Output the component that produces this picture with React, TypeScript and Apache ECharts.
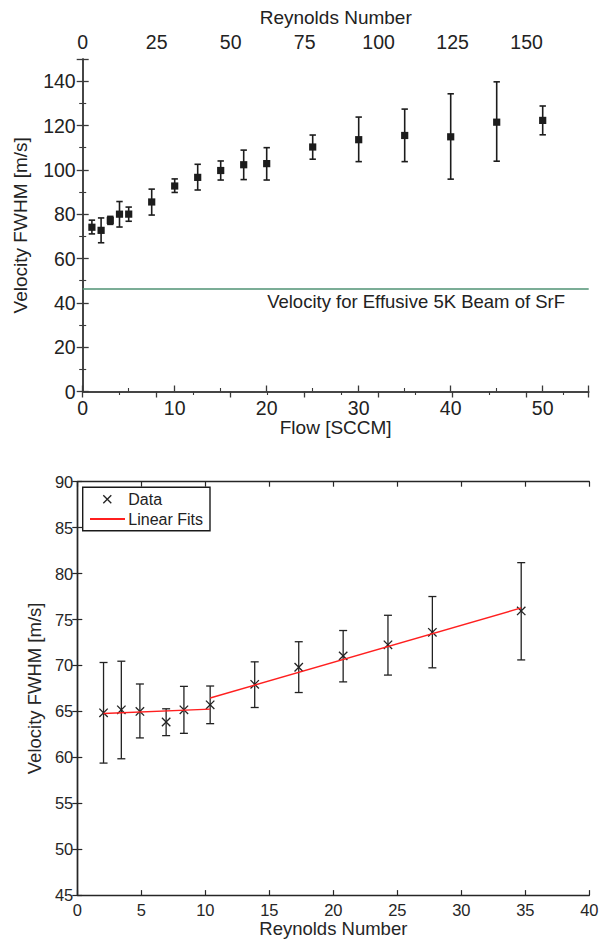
import React, { useEffect, useRef } from 'react';
import * as echarts from 'echarts';

// ---------- Top chart: FWHM vs flow ----------
const flowSccm = [1, 2, 3, 4, 5, 7.5, 10, 12.5, 15, 17.5, 20, 25, 30, 35, 40, 45, 50];
const fwhmTop = [74.1, 72.7, 77.2, 80.0, 80.0, 85.5, 92.7, 96.6, 99.7, 102.3, 102.8, 110.3, 113.6, 115.5, 114.9, 121.5, 122.3];
const errLowTop = [71.1, 67.1, 75.4, 74.2, 76.8, 79.6, 89.8, 90.9, 95.4, 95.6, 95.4, 104.8, 103.7, 103.7, 95.8, 103.9, 115.8];
const errHighTop = [77.3, 78.3, 79.0, 85.7, 83.2, 91.3, 95.9, 102.5, 104.0, 108.9, 110.0, 115.7, 123.8, 127.4, 134.3, 139.7, 128.8];
const effusiveVelocity = 46.5;
const effusiveLabel = 'Velocity for Effusive 5K Beam of SrF';
const flowMax = 55;
const reynoldsTopMax = 171;

// ---------- Bottom chart: FWHM vs Reynolds number ----------
const reynolds = [2.05, 3.44, 4.89, 6.94, 8.33, 10.38, 13.86, 17.3, 20.77, 24.27, 27.74, 34.68];
const fwhmBottom = [64.84, 65.17, 64.99, 63.84, 65.17, 65.71, 67.94, 69.8, 71.04, 72.24, 73.6, 75.93];
const errLowBottom = [59.37, 59.84, 62.11, 62.36, 62.61, 63.66, 65.42, 67.05, 68.21, 68.95, 69.74, 70.6];
const errHighBottom = [70.32, 70.46, 67.98, 65.28, 67.72, 67.76, 70.39, 72.58, 73.8, 75.46, 77.5, 81.19];
const fitLowRe = [2.05, 10.38];
const fitLowV = [64.77, 65.24];
const fitHighRe = [10.38, 34.68];
const fitHighV = [66.46, 76.26];

const FONT = 'Liberation Sans, Arial, Helvetica, sans-serif';
const TOP_C = '#3a3a3a';
const TXT_TOP = '#222';
const BOT_C = '#262626';

export default function App() {
  const ref = useRef<HTMLDivElement>(null);
  useEffect(() => {
    if (!ref.current) return;
    const chart = echarts.init(ref.current, null, { renderer: 'svg' });

    const topAxisCommon = (show: boolean) => ({
      axisLine: { show: true, lineStyle: { color: TOP_C, width: 1.5 } },
      axisTick: { show: true, inside: true, length: 6, lineStyle: { color: TOP_C, width: 1.3 } },
      minorTick: { show: true, splitNumber: 2, length: 3.5, lineStyle: { color: TOP_C, width: 1.1 } },
      splitLine: { show: false },
      axisLabel: { show, color: TXT_TOP, fontSize: 19.5, fontFamily: FONT, showMaxLabel: false },
    });
    const botAxisCommon = (show: boolean) => ({
      axisLine: { show: true, lineStyle: { color: BOT_C, width: 1.4 } },
      axisTick: { show: true, inside: true, length: 5, lineStyle: { color: BOT_C, width: 1.2 } },
      splitLine: { show: false },
      axisLabel: { show, color: BOT_C, fontSize: 16.5, fontFamily: FONT, showMinLabel: true, showMaxLabel: true },
    });

    const topData = flowSccm.map((f, i) => [f, fwhmTop[i], errLowTop[i], errHighTop[i]]);
    const botData = reynolds.map((r, i) => [r, fwhmBottom[i], errLowBottom[i], errHighBottom[i]]);

    const option: any = {
      animation: false,
      backgroundColor: '#fff',
      grid: [
        { left: 82.7, top: 59, width: 506, height: 332.5 },
        { left: 77.3, top: 481.7, width: 512, height: 416.7 },
      ],
      xAxis: [
        {
          gridIndex: 0, type: 'value', position: 'bottom', min: 0, max: flowMax, interval: 10,
          name: 'Flow [SCCM]', nameLocation: 'middle', nameGap: 25,
          nameTextStyle: { color: TXT_TOP, fontSize: 19, fontFamily: FONT },
          ...topAxisCommon(true),
          axisLabel: { ...topAxisCommon(true).axisLabel, margin: 6 },
        },
        {
          gridIndex: 0, type: 'value', position: 'top', min: 0, max: reynoldsTopMax, interval: 25,
          name: 'Reynolds Number', nameLocation: 'middle', nameGap: 32,
          nameTextStyle: { color: TXT_TOP, fontSize: 19, fontFamily: FONT },
          ...topAxisCommon(true),
          axisLabel: { ...topAxisCommon(true).axisLabel, margin: 7 },
        },
        {
          gridIndex: 1, type: 'value', position: 'bottom', min: 0, max: 40, interval: 5,
          name: 'Reynolds Number', nameLocation: 'middle', nameGap: 23,
          nameTextStyle: { color: BOT_C, fontSize: 18.5, fontFamily: FONT },
          ...botAxisCommon(true),
          axisLabel: { ...botAxisCommon(true).axisLabel, margin: 6 },
        },
        {
          gridIndex: 1, type: 'value', position: 'top', min: 0, max: 40, interval: 5,
          ...botAxisCommon(false),
        },
      ],
      yAxis: [
        {
          gridIndex: 0, type: 'value', position: 'left', min: 0, max: 150, interval: 20,
          name: 'Velocity FWHM [m/s]', nameLocation: 'middle', nameGap: 53,
          nameTextStyle: { color: TXT_TOP, fontSize: 19, fontFamily: FONT },
          ...topAxisCommon(true),
          axisLabel: { ...topAxisCommon(true).axisLabel, margin: 7 },
        },
        {
          gridIndex: 0, type: 'value', position: 'right', min: 0, max: 150, interval: 20,
          ...topAxisCommon(false),
        },
        {
          gridIndex: 1, type: 'value', position: 'left', min: 45, max: 90, interval: 5,
          name: 'Velocity FWHM [m/s]', nameLocation: 'middle', nameGap: 29,
          nameTextStyle: { color: BOT_C, fontSize: 18.5, fontFamily: FONT },
          ...botAxisCommon(true),
          axisLabel: { ...botAxisCommon(true).axisLabel, margin: 4 },
        },
        {
          gridIndex: 1, type: 'value', position: 'right', min: 45, max: 90, interval: 5,
          ...botAxisCommon(false),
        },
      ],
      series: [
        {
          name: 'FWHM vs flow',
          type: 'custom',
          xAxisIndex: 0, yAxisIndex: 0,
          data: topData,
          encode: { x: 0, y: [1, 2, 3] },
          renderItem: (params: any, api: any) => {
            const p = api.coord([api.value(0), api.value(1)]);
            const pl = api.coord([api.value(0), api.value(2)]);
            const ph = api.coord([api.value(0), api.value(3)]);
            const cap = 3.2;
            const st = { stroke: '#1c1c1c', lineWidth: 1.6 };
            return {
              type: 'group',
              children: [
                { type: 'line', shape: { x1: p[0], y1: ph[1], x2: p[0], y2: pl[1] }, style: st },
                { type: 'line', shape: { x1: p[0] - cap, y1: ph[1], x2: p[0] + cap, y2: ph[1] }, style: st },
                { type: 'line', shape: { x1: p[0] - cap, y1: pl[1], x2: p[0] + cap, y2: pl[1] }, style: st },
                { type: 'rect', shape: { x: p[0] - 3.6, y: p[1] - 3.6, width: 7.2, height: 7.2 }, style: { fill: '#1c1c1c' } },
              ],
            };
          },
          markLine: {
            silent: true,
            symbol: 'none',
            data: [{ yAxis: effusiveVelocity }],
            lineStyle: { color: '#4f9273', width: 1.7, type: 'solid' },
            label: { show: false },
          },
          z: 3,
        },
        {
          name: 'Data',
          type: 'custom',
          xAxisIndex: 2, yAxisIndex: 2,
          data: botData,
          encode: { x: 0, y: [1, 2, 3] },
          renderItem: (params: any, api: any) => {
            const p = api.coord([api.value(0), api.value(1)]);
            const pl = api.coord([api.value(0), api.value(2)]);
            const ph = api.coord([api.value(0), api.value(3)]);
            const cap = 4;
            const m = 4.2;
            const st = { stroke: '#222', lineWidth: 1.3 };
            return {
              type: 'group',
              children: [
                { type: 'line', shape: { x1: p[0], y1: ph[1], x2: p[0], y2: pl[1] }, style: st },
                { type: 'line', shape: { x1: p[0] - cap, y1: ph[1], x2: p[0] + cap, y2: ph[1] }, style: st },
                { type: 'line', shape: { x1: p[0] - cap, y1: pl[1], x2: p[0] + cap, y2: pl[1] }, style: st },
                { type: 'line', shape: { x1: p[0] - m, y1: p[1] - m, x2: p[0] + m, y2: p[1] + m }, style: st },
                { type: 'line', shape: { x1: p[0] - m, y1: p[1] + m, x2: p[0] + m, y2: p[1] - m }, style: st },
              ],
            };
          },
          z: 3,
        },
        {
          name: 'Linear Fits',
          type: 'line',
          xAxisIndex: 2, yAxisIndex: 2,
          data: fitLowRe.map((r, i) => [r, fitLowV[i]]),
          showSymbol: false,
          lineStyle: { color: '#ff1f1f', width: 1.4 },
          z: 4,
        },
        {
          name: 'Linear Fits',
          type: 'line',
          xAxisIndex: 2, yAxisIndex: 2,
          data: fitHighRe.map((r, i) => [r, fitHighV[i]]),
          showSymbol: false,
          lineStyle: { color: '#ff1f1f', width: 1.4 },
          z: 4,
        },
      ],
      graphic: [
        {
          type: 'text', x: 565, y: 301.5,
          style: { text: effusiveLabel, fill: TXT_TOP, fontSize: 18.5, fontFamily: FONT, align: 'right', verticalAlign: 'middle' },
          z: 10,
        },
        {
          type: 'group', x: 0, y: 0, z: 20,
          children: [
            { type: 'rect', shape: { x: 82.7, y: 487.3, width: 127.3, height: 43.4 }, style: { fill: '#fff', stroke: '#1a1a1a', lineWidth: 1.4 } },
            { type: 'line', shape: { x1: 103.3, y1: 495.3, x2: 111.3, y2: 503.3 }, style: { stroke: '#222', lineWidth: 1.3 } },
            { type: 'line', shape: { x1: 103.3, y1: 503.3, x2: 111.3, y2: 495.3 }, style: { stroke: '#222', lineWidth: 1.3 } },
            { type: 'text', x: 128.3, y: 499.5, style: { text: 'Data', fill: '#222', fontSize: 16, fontFamily: FONT, verticalAlign: 'middle' } },
            { type: 'line', shape: { x1: 90, y1: 519, x2: 125, y2: 519 }, style: { stroke: '#ff1f1f', lineWidth: 1.8 } },
            { type: 'text', x: 128.3, y: 519.5, style: { text: 'Linear Fits', fill: '#222', fontSize: 16, fontFamily: FONT, verticalAlign: 'middle' } },
          ],
        },
      ],
    };
    chart.setOption(option);
    return () => chart.dispose();
  }, []);

  return (
    <div
      ref={ref}
      style={{ position: 'absolute', left: 0, top: 0, width: 605, height: 939, background: '#fff' }}
    />
  );
}
